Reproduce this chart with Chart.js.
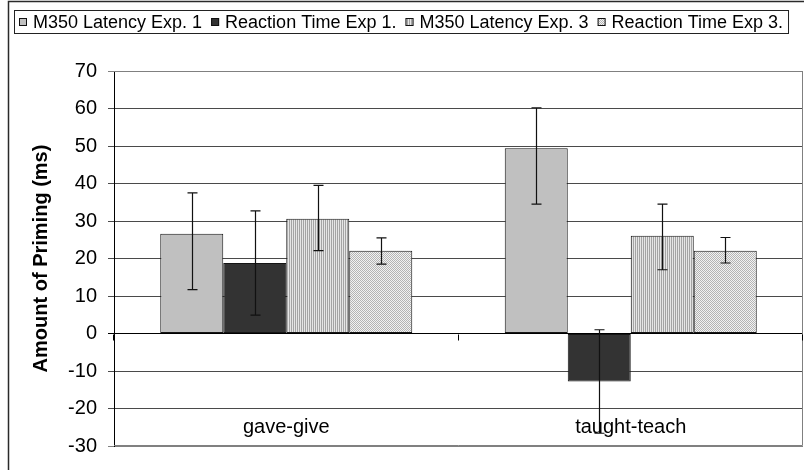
<!DOCTYPE html>
<html>
<head>
<meta charset="utf-8">
<script src="https://cdn.jsdelivr.net/npm/chart.js@4.4.1/dist/chart.umd.min.js"></script>
<style>
  html, body { margin: 0; padding: 0; background: #fff; }
  #wrap { width: 804px; height: 475px; position: relative; }
</style>
</head>
<body>
<div id="wrap"><canvas id="c" width="804" height="475"></canvas></div>
<script>
// Categories and series
const categories = ['gave-give', 'taught-teach'];
const seriesNames = ['M350 Latency Exp. 1', 'Reaction Time Exp 1.', 'M350 Latency Exp. 3', 'Reaction Time Exp 3.'];

// Amount of priming (ms)
const m350Exp1 = [26.6, 49.4];
const rtExp1   = [18.8, -12.8];
const m350Exp3 = [30.6, 26.1];
const rtExp3   = [22.1, 22.1];

// Error bar bounds (ms): lower and upper ends
const m350Exp1Low = [11.7, 34.5];
const m350Exp1High = [37.5, 60.2];
const rtExp1Low = [4.9, -26.6];
const rtExp1High = [32.7, 1.0];
const m350Exp3Low = [22.1, 17.0];
const m350Exp3High = [39.5, 34.5];
const rtExp3Low = [18.5, 18.8];
const rtExp3High = [25.5, 25.6];

// Value axis range
const yMin = -30, yMax = 70, yStep = 10;

const FONT = "'Liberation Sans', Arial, sans-serif";

// Fill patterns
function makePattern(w, h, paint) {
  const c = document.createElement('canvas');
  c.width = w; c.height = h;
  const g = c.getContext('2d');
  paint(g);
  return g.createPattern(c, 'repeat');
}
const stripeFill = makePattern(2, 2, g => {
  g.fillStyle = '#e6e6e6'; g.fillRect(0, 0, 2, 2);
  g.fillStyle = '#a4a4a4'; g.fillRect(1, 0, 1, 2);
});
const dotFill = makePattern(2, 2, g => {
  g.fillStyle = '#f2f2f2'; g.fillRect(0, 0, 2, 2);
  g.fillStyle = '#b4b4b4'; g.fillRect(0, 0, 1, 1); g.fillRect(1, 1, 1, 1);
});

const fills = ['#c0c0c0', '#333333', stripeFill, dotFill];
const values = [m350Exp1, rtExp1, m350Exp3, rtExp3];
const lows = [m350Exp1Low, rtExp1Low, m350Exp3Low, rtExp3Low];
const highs = [m350Exp1High, rtExp1High, m350Exp3High, rtExp3High];

const datasets = seriesNames.map((name, i) => ({
  label: name,
  data: values[i],
  backgroundColor: fills[i],
  borderColor: '#151515',
  borderWidth: 1,
  borderSkipped: false,
  barPercentage: 1.0,
  categoryPercentage: 0.7315
}));

// Background, outer frame lines and plot border
const framePlugin = {
  id: 'frame',
  beforeDraw(chart) {
    const ctx = chart.ctx;
    ctx.save();
    ctx.fillStyle = '#fff';
    ctx.fillRect(0, 0, chart.width, chart.height);
    ctx.strokeStyle = '#2a2a2a';
    ctx.lineWidth = 1.5;
    ctx.beginPath();
    ctx.moveTo(8.5, 470);
    ctx.lineTo(8.5, 1.5);
    ctx.lineTo(chart.width, 1.5);
    ctx.stroke();
    ctx.restore();
  },
  beforeDatasetsDraw(chart) {
    const { left, right, top, bottom } = chart.chartArea;
    const ctx = chart.ctx;
    ctx.save();
    ctx.strokeStyle = '#808080';
    ctx.lineWidth = 1;
    ctx.beginPath();
    ctx.moveTo(left, top + 0.5);
    ctx.lineTo(right - 0.5, top + 0.5);
    ctx.lineTo(right - 0.5, bottom - 0.5);
    ctx.lineTo(left, bottom - 0.5);
    ctx.stroke();
    ctx.restore();
  }
};

// Error bars, category ticks on the zero line, category labels
const errorBarPlugin = {
  id: 'errorBars',
  afterDatasetsDraw(chart) {
    const ctx = chart.ctx;
    const y = chart.scales.y;
    const x = chart.scales.x;
    ctx.save();
    ctx.strokeStyle = '#111';
    ctx.lineWidth = 1.2;
    chart.data.datasets.forEach((ds, i) => {
      const meta = chart.getDatasetMeta(i);
      meta.data.forEach((bar, j) => {
        const cx = Math.round(bar.x) + 0.5;
        const yl = y.getPixelForValue(lows[i][j]);
        const yh = y.getPixelForValue(highs[i][j]);
        ctx.beginPath();
        ctx.moveTo(cx, yl); ctx.lineTo(cx, yh);
        ctx.moveTo(cx - 5, yl); ctx.lineTo(cx + 5, yl);
        ctx.moveTo(cx - 5, yh); ctx.lineTo(cx + 5, yh);
        ctx.stroke();
      });
    });

    // category axis ticks below the zero line
    const y0 = Math.round(y.getPixelForValue(0)) + 0.5;
    const bounds = [x.left];
    for (let k = 0; k < categories.length - 1; k++) {
      bounds.push((x.getPixelForValue(k) + x.getPixelForValue(k + 1)) / 2);
    }
    bounds.push(x.right);
    ctx.strokeStyle = '#000';
    ctx.lineWidth = 1;
    ctx.beginPath();
    bounds.forEach(bx => {
      const px = Math.round(bx) - 0.5;
      ctx.moveTo(px, y0); ctx.lineTo(px, y0 + 6);
    });
    ctx.stroke();

    // category labels, placed low in the plot
    ctx.fillStyle = '#000';
    ctx.font = '20px ' + FONT;
    ctx.textAlign = 'center';
    ctx.textBaseline = 'alphabetic';
    categories.forEach((c, k) => {
      ctx.fillText(c, x.getPixelForValue(k), 433);
    });
    ctx.restore();
  }
};

// Boxed legend across the top
const legendPlugin = {
  id: 'boxLegend',
  afterDraw(chart) {
    const ctx = chart.ctx;
    ctx.save();
    ctx.font = '18px ' + FONT;
    const sq = 8, gap = 6, itemGap = 9;
    const widths = seriesNames.map(t => ctx.measureText(t).width);
    const total = widths.reduce((a, w) => a + sq + gap + w, 0) + itemGap * (seriesNames.length - 1);
    let x = Math.round(401 - total / 2);
    const boxL = x - 5, boxR = x + total + 5;
    ctx.strokeStyle = '#222';
    ctx.lineWidth = 1;
    ctx.strokeRect(boxL + 0.5, 10.5, boxR - boxL, 23);
    const cy = 22;
    seriesNames.forEach((t, i) => {
      ctx.fillStyle = fills[i];
      ctx.fillRect(x, cy - 4, sq, sq);
      ctx.strokeStyle = '#111';
      ctx.strokeRect(x + 0.5, cy - 4 + 0.5, sq - 1, sq - 1);
      ctx.fillStyle = '#000';
      ctx.textAlign = 'left';
      ctx.textBaseline = 'middle';
      ctx.fillText(t, x + sq + gap, cy + 1);
      x += sq + gap + widths[i] + itemGap;
    });
    ctx.restore();
  }
};

new Chart(document.getElementById('c'), {
  type: 'bar',
  data: { labels: categories, datasets },
  options: {
    responsive: false,
    animation: false,
    events: [],
    layout: { padding: { left: 0, right: 1, top: 71, bottom: 29 } },
    plugins: { legend: { display: false }, tooltip: { enabled: false } },
    scales: {
      x: { display: false, offset: true },
      y: {
        min: yMin, max: yMax,
        ticks: { stepSize: yStep, color: '#000', padding: 11, font: { size: 20, family: FONT } },
        grid: {
          tickLength: 6,
          lineWidth: 1,
          color: c => {
            const v = c.tick ? c.tick.value : null;
            if (v === 0) return '#000';
            if (v === yMax || v === yMin) return '#808080';
            return '#4a4a4a';
          }
        },
        border: { color: '#000', width: 1 },
        title: {
          display: true,
          text: 'Amount of Priming (ms)',
          color: '#000',
          font: { size: 20, weight: 'bold', family: FONT },
          padding: { top: 29, bottom: 0 }
        },
        afterFit: s => { s.width = 114; }
      }
    }
  },
  plugins: [framePlugin, errorBarPlugin, legendPlugin]
});
</script>
</body>
</html>
